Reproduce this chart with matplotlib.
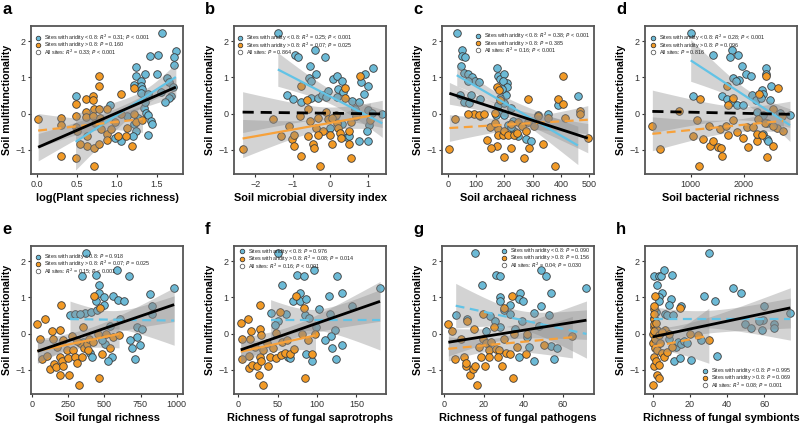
import numpy as np
import matplotlib
matplotlib.use('Agg')
import matplotlib.pyplot as plt

plt.rcParams['font.family'] = ['Liberation Sans', 'DejaVu Sans']

BLUE = '#6cbad6'
BLUE_LINE = '#62c3e6'
ORANGE = '#f29a26'
ORANGE_LINE = '#f7a13a'

# ---- panel a: log(Plant species richness)
a_blue_x = [1.56, 1.74, 1.72, 1.41, 1.51, 1.72, 1.24, 1.35, 1.50, 1.63, 1.24, 1.30, 1.21, 1.30, 1.32,
            1.30, 1.39, 1.55, 1.66, 1.70, 1.68, 1.66, 1.60, 1.34, 1.35, 1.37, 1.39, 1.43, 1.44, 1.39,
            1.22, 1.24, 1.20, 1.13, 1.26, 1.05, 0.97, 0.48, 0.91]
a_blue_y = [2.22, 1.74, 1.57, 1.59, 1.61, 1.34, 1.28, 1.09, 1.09, 0.98, 1.03, 0.89, 0.79, 0.76, 0.67,
            0.58, 0.55, 0.60, 0.87, 0.73, 0.49, 0.42, 0.31, 0.16, 0.33, 0.01, -0.05, -0.20, -0.29, -0.58,
            -0.29, -0.47, -0.62, -0.08, -0.11, -0.76, -0.67, 0.48, 0.25]
a_orange_x = [0.01, 0.30, 0.30, 0.30, 0.48, 0.48, 0.48, 0.49, 0.61, 0.61, 0.61, 0.62, 0.62, 0.70, 0.70,
              0.71, 0.70, 0.72, 0.71, 0.71, 0.78, 0.78, 0.78, 0.79, 0.80, 0.78, 0.87, 0.87, 0.87, 1.01,
              1.05, 1.05, 1.13, 1.12, 1.19, 1.21, 1.21, 1.24, 1.32, 0.97, 0.92, 0.50, 0.54]
a_orange_y = [-0.15, -0.11, -0.31, -1.17, -0.08, -0.38, 0.26, -1.24, 0.40, 0.05, -0.09, -0.62, -0.91, 0.48, 0.37,
              0.12, -0.07, -0.26, -0.94, -1.44, 1.03, 0.76, 0.14, -0.11, -0.42, -0.85, 0.14, -0.56, -0.74, -0.62,
              0.54, -0.02, -0.40, -0.61, -0.89, 0.70, -0.02, -0.22, -0.18, -0.24, -0.44, -0.49, -0.85]
a_fits = [(-0.78, 1.01), (-0.47, -0.15), (-0.93, 0.73)]  # blue, orange, all (y at x min / x max)

# ---- panel b: Soil microbial diversity index
b_blue_x = [-1.40, -0.93, -0.86, -0.41, -0.14, -0.53, -0.37, -0.56, -0.50, 0.07, 0.17, 0.31, 0.94, 1.14, 1.00,
            0.83, -0.05, 0.22, 0.35, -1.16, -1.00, -0.79, -0.50, -0.32, -0.23, -0.10, 0.17, 0.58, 0.76, 0.89,
            0.65, 1.00, 1.12, 1.39, 1.03, 0.98, 0.76, 1.00, 0.44, 0.49, 0.31, 0.00]
b_blue_y = [2.22, 1.63, 1.57, 1.75, 1.57, 1.32, 1.09, 0.98, 0.91, 0.96, 1.03, 0.89, 1.09, 1.27, 0.76,
            0.87, 0.61, 0.69, 0.60, 0.51, 0.40, 0.31, 0.43, 0.42, 0.51, 0.46, 0.46, 0.34, 0.33, 0.55,
            0.14, 0.10, 0.01, -0.02, -0.31, -0.49, -0.76, -0.77, -0.66, -0.62, -0.29, -0.40]
b_orange_x = [-2.34, -1.53, -1.31, -1.02, -0.98, -0.77, -0.97, -1.11, -0.81, -0.79, -0.61, -0.59, -0.59, -0.47,
              -0.44, -0.37, -0.32, -0.26, -0.19, -0.10, -0.05, -0.01, 0.06, 0.15, 0.17, 0.22, 0.26, 0.29,
              0.40, 0.49, 0.49, 0.56, 0.56, 0.69, 0.80, 0.40, 1.07, -0.53, -0.32, 0.04]
b_orange_y = [-0.98, -0.14, -0.62, -0.71, -0.89, -1.17, -0.58, -0.35, -0.08, 0.76, 0.37, 0.14, -0.62, -0.85,
              -0.94, -0.40, -0.13, -1.44, -0.47, 0.05, -0.14, -0.58, -0.83, -0.04, -0.26, -0.40, -0.53, -0.67,
              0.70, -0.49, -0.85, -1.23, -0.23, -0.08, 1.03, 0.42, -0.17, -0.20, -0.58, -0.13]
b_fits = [(1.22, -0.27), (-0.69, -0.06), (0.04, -0.01)]

# ---- panel c: Soil archaeal richness
c_blue_x = [32, 51, 51, 61, 48, 59, 71, 86, 96, 112, 71, 45, 59, 76, 82, 113, 114, 174, 176, 186, 200, 209,
            195, 207, 209, 192, 184, 176, 200, 224, 182, 198, 171, 212, 229, 235, 247, 276, 294, 318, 355,
            459, 388, 224]
c_blue_y = [2.22, 1.75, 1.59, 1.56, 1.32, 1.12, 1.09, 1.00, 0.91, 0.87, 0.91, 0.51, 0.31, 0.28, 0.51, 0.40,
            -0.06, 1.27, 1.03, 0.96, 1.09, 0.85, 0.91, 0.52, 0.74, 0.67, 0.42, 0.25, 0.28, 0.16, 0.05, -0.04,
            -0.05, -0.31, -0.20, -0.47, -0.62, -0.71, -0.76, -0.04, -0.02, 0.48, 0.25, -0.38]
c_orange_x = [6, 26, 94, 112, 129, 139, 167, 175, 182, 185, 176, 178, 175, 153, 151, 167, 194, 198, 198, 212,
              224, 235, 244, 249, 261, 268, 276, 288, 282, 282, 306, 320, 335, 353, 379, 388, 406, 408, 412,
              465, 465, 494, 224, 71]
c_orange_y = [-0.98, -0.14, -0.02, -0.04, -0.02, -0.74, 0.01, 0.73, 0.64, 0.37, -0.42, -0.58, -0.89, -0.94,
              -0.38, -0.26, -0.60, -1.21, -0.47, -0.60, -0.94, -0.60, -0.53, -0.23, -0.35, -1.24, -0.47, -0.94,
              0.40, -0.22, -0.33, -0.08, -0.83, -0.11, -1.44, 0.40, 0.27, 1.03, -0.11, 0.07, 0.00, -0.67,
              -0.28, -0.02]
c_fits = [(1.06, -0.88), (-0.40, -0.17), (0.56, -0.68)]

# ---- panel d: Soil bacterial richness
d_blue_x = [1000, 1412, 1769, 1737, 1881, 1956, 2037, 2131, 1800, 1912, 1850, 2412, 2406, 2500, 2331, 2362,
            1050, 1581, 1675, 1769, 1862, 1987, 2144, 2225, 2312, 2487, 2675, 2862, 2425, 2362, 2425, 2456,
            2250, 2362]
d_blue_y = [2.22, 1.62, 1.75, 1.57, 1.61, 1.32, 1.09, 1.03, 0.98, 0.93, 0.91, 1.27, 1.09, 0.76, 0.64, 0.55,
            0.49, 0.49, 0.40, 0.31, 0.23, 0.25, 0.51, 0.37, 0.42, 0.37, 0.01, -0.04, -0.26, -0.56, -0.69, -0.76,
            0.05, -0.04]
d_orange_x = [281, 425, 781, 1050, 1175, 1150, 1112, 1237, 1362, 1344, 1425, 1519, 1562, 1581, 1550, 1687,
              1706, 1662, 1706, 1800, 1787, 1862, 1987, 2050, 2081, 2175, 2237, 2250, 2287, 2269, 2331, 2406,
              2400, 2437, 2550, 2631, 2612, 2550, 2706, 2737, 2550]
d_orange_y = [-0.33, -0.98, 0.07, -0.62, 0.40, -1.44, -0.17, -0.69, -0.89, -0.35, -0.76, -0.92, -0.96, -1.17,
              -0.44, 0.76, 0.25, -0.35, -0.58, 0.42, -0.17, -0.51, -0.67, -0.38, -0.92, -0.38, -0.76, -0.56,
              0.55, -0.14, -0.58, 1.03, -0.26, -1.21, -0.89, 0.70, -0.40, 0.14, -0.08, -0.49, -0.35]
d_fits = [(1.47, -0.32), (-0.56, -0.20), (0.06, -0.02)]

# ---- panel e: Soil fungal richness
e_blue_x = [375, 345, 444, 586, 671, 462, 467, 499, 441, 563, 598, 639, 816, 982, 499, 368, 407, 448, 264,
            299, 333, 828, 828, 729, 759, 724, 678, 690, 747, 713, 552, 529, 402, 414, 506, 483, 356, 540, 609]
e_blue_y = [2.22, 1.59, 1.61, 1.75, 1.59, 1.34, 1.12, 1.00, 0.91, 1.03, 0.94, 0.89, 1.09, 1.27, 0.80, 0.58,
            0.59, 0.64, 0.51, 0.53, 0.55, 0.77, 0.55, 0.17, 0.13, -0.10, -0.19, -0.39, -0.32, -0.71, -0.64,
            -0.77, -0.55, -0.66, -0.28, -0.17, -0.23, 0.22, 0.40]
e_orange_x = [39, 57, 69, 92, 103, 126, 138, 145, 154, 172, 168, 195, 200, 195, 207, 195, 218, 241, 253, 260,
              276, 287, 299, 315, 329, 333, 345, 356, 361, 384, 391, 398, 421, 430, 460, 471, 483, 467, 510,
              540, 218, 310, 563, 602]
e_orange_y = [0.26, -0.14, -0.71, 0.40, -0.62, -0.98, 0.06, -0.14, -0.84, -0.37, -0.93, 0.10, 0.78, -0.64,
              -0.77, -1.15, -0.91, -0.46, -0.68, -1.14, -0.08, -0.46, -0.64, -0.80, -1.43, -0.26, -0.64, 0.17,
              -0.41, -0.28, -0.46, -0.14, -0.23, 1.03, -0.01, 0.71, -0.57, -1.23, -0.01, -0.41, -0.19, -0.21,
              -0.10, -0.03]
e_fits = [(0.40, 0.36), (-0.48, -0.01), (-0.49, 0.80)]

# ---- panel f: Richness of fungal saprotrophs
f_blue_x = [50, 75, 83, 96, 125, 55, 78, 132, 180, 115, 69, 78, 86, 103, 144, 41, 60, 85, 90, 116, 123, 99,
            118, 110, 119, 132, 124, 63, 66, 93, 86, 50, 46]
f_blue_y = [2.22, 1.63, 1.59, 1.75, 1.59, 1.34, 1.12, 1.12, 1.27, 1.03, 0.91, 0.91, 0.96, 0.67, 0.77, 0.58,
            0.53, 0.51, 0.44, 0.55, 0.10, 0.17, -0.08, -0.19, -0.39, -0.32, -0.71, -0.64, -0.68, -0.77,
            -0.57, 0.35, 0.25]
f_orange_x = [3, 5, 5, 12, 13, 13, 16, 18, 21, 24, 27, 27, 27, 26, 29, 29, 31, 31, 36, 38, 40, 44, 48, 48,
              55, 54, 59, 62, 66, 71, 73, 81, 84, 85, 88, 93, 53, 98, 15]
f_orange_y = [0.28, -0.14, -0.71, 0.40, -0.62, -0.95, 0.08, -0.86, -0.37, -0.91, 0.78, 0.13, -0.64, -1.15,
              -0.77, -0.05, -0.46, -1.43, -0.26, -0.91, -0.64, -0.41, 0.01, -0.68, -0.23, -0.59, -0.55, -0.19,
              -0.57, -0.44, 1.03, -0.01, 0.71, -1.23, -0.19, -0.57, 0.60, -0.01, -0.14]
f_fits = [(0.38, 0.38), (-0.50, -0.05), (-0.45, 0.89)]

# ---- panel g: Richness of fungal pathogens
g_blue_x = [15.4, 26.2, 28.4, 48.7, 51.5, 19.1, 38.5, 53.7, 71.8, 28.1, 28.4, 33.5, 37.7, 39.9, 48.7, 5.9,
            11.5, 23.3, 25.9, 30.1, 33.5, 45.6, 52.9, 39.4, 36.0, 41.9, 42.8, 54.1, 57.1, 55.4, 45.6, 37.7,
            28.4, 47.8, 21.3]
g_blue_y = [2.22, 1.63, 1.59, 1.75, 1.59, 1.34, 1.12, 1.12, 1.27, 1.00, 0.91, 0.80, 0.96, 0.89, 0.77, 0.50,
            0.40, 0.49, 0.35, 0.64, 0.53, 0.58, 0.51, 0.35, 0.13, -0.10, -0.37, -0.35, -0.41, -0.71, -0.77,
            -0.64, 0.17, 0.22, 0.08]
g_orange_x = [2.2, 3.9, 5.6, 8.6, 10.3, 11.2, 11.2, 13.2, 14.5, 15.2, 15.7, 16.6, 17.4, 18.8, 19.6, 21.3,
              20.8, 22.5, 22.9, 19.9, 23.8, 25.0, 26.4, 27.6, 29.2, 30.1, 30.4, 31.4, 33.5, 34.3, 35.2, 34.6,
              36.8, 41.1, 41.9, 50.4, 64.7, 11.5, 27.0]
g_orange_y = [0.26, 0.06, -0.71, -0.14, -0.64, -0.91, -0.80, -1.15, -0.98, 0.13, -0.89, -1.43, -0.37, -0.64,
              -0.14, -0.26, -0.91, -0.46, -0.64, 0.53, -0.23, 0.19, -0.44, -0.46, -0.91, -0.14, 0.71, -0.55,
              -0.57, 1.03, -0.01, -1.23, -0.37, -0.57, -0.01, -0.32, -0.08, 0.35, -0.64]
g_fits = [(0.77, -0.01), (-0.42, -0.10), (-0.24, 0.37)]

# ---- panel h: Richness of fungal symbionts
h_blue_x = [30.2, 0.9, 3.6, 4.3, 6.3, 10.3, 2.2, 4.9, 3.6, 3.1, 9.8, 8.5, 15.4, 43.0, 47.4, 33.4, 27.5, 1.6,
            0.7, 6.7, 7.6, 10.8, 60.0, 74.1, 49.5, 52.8, 59.5, 59.1, 65.1, 65.4, 57.0, 8.5, 12.7, 13.4, 15.2,
            16.6, 11.6, 14.8, 20.8, 26.2, 34.7, 2.2, 18.4]
h_blue_y = [2.22, 1.60, 1.59, 1.60, 1.75, 1.62, 1.34, 1.12, 1.00, 0.91, 0.96, 0.80, 0.77, 1.27, 1.12, 0.89,
            1.03, 0.59, 0.42, 0.53, 0.51, 0.51, 0.77, 0.58, 0.26, 0.15, 0.37, 0.10, 0.26, 0.15, 0.35, -0.14,
            -0.37, -0.24, -0.30, -0.21, -0.76, -0.68, -0.72, -0.19, -0.61, -0.32, -0.26]
h_orange_x = [0.4, 0.4, 0.4, 0.0, 0.0, 0.4, 0.4, 0.0, 1.3, 0.9, 0.7, 1.3, 1.3, 1.8, 2.2, 3.1, 2.5, 2.5,
              3.6, 4.0, 4.9, 5.8, 6.7, 7.6, 8.5, 10.3, 14.5, 20.2, 24.4, 30.2, 0.7, 1.8, 0.4, 3.1, 4.9]
h_orange_y = [0.67, 0.40, 0.17, -0.01, -0.26, -0.64, -0.91, -1.43, 1.03, 0.76, 0.27, -0.14, -0.41, -0.77,
              -1.15, -1.23, 0.10, -0.46, -0.86, -0.26, -0.55, -0.64, 0.10, -0.50, -0.01, -0.37, 0.71, -0.01,
              -0.05, -0.17, 0.06, 0.30, 0.53, -0.03, 0.04]
h_fits = [(0.40, 0.40), (-0.36, -0.06), (-0.09, 0.71)]

letters = ['a', 'b', 'c', 'd', 'e', 'f', 'g', 'h']
xlabels = ['log(Plant species richness)', 'Soil microbial diversity index', 'Soil archaeal richness',
           'Soil bacterial richness', 'Soil fungal richness', 'Richness of fungal saprotrophs',
           'Richness of fungal pathogens', 'Richness of fungal symbionts']
legend_texts = [
    ['Sites with aridity < 0.8: $R^2$ = 0.31; $P$ < 0.001', 'Sites with aridity > 0.8: $P$ = 0.160',
     'All sites: $R^2$ = 0.33; $P$ < 0.001'],
    ['Sites with aridity < 0.8: $R^2$ = 0.25; $P$ < 0.001', 'Sites with aridity > 0.8: $R^2$ = 0.07; $P$ = 0.025',
     'All sites: $P$ = 0.864'],
    ['Sites with aridity < 0.8: $R^2$ = 0.38; $P$ < 0.001', 'Sites with aridity > 0.8: $P$ = 0.385',
     'All sites: $R^2$ = 0.16; $P$ < 0.001'],
    ['Sites with aridity < 0.8: $R^2$ = 0.28; $P$ < 0.001', 'Sites with aridity > 0.8: $P$ = 0.096',
     'All sites: $P$ = 0.816'],
    ['Sites with aridity < 0.8: $P$ = 0.918', 'Sites with aridity > 0.8: $R^2$ = 0.07; $P$ = 0.025',
     'All sites: $R^2$ = 0.15; $P$ < 0.001'],
    ['Sites with aridity < 0.8: $P$ = 0.976', 'Sites with aridity > 0.8: $R^2$ = 0.08; $P$ = 0.014',
     'All sites: $R^2$ = 0.16; $P$ < 0.001'],
    ['Sites with aridity < 0.8: $P$ = 0.090', 'Sites with aridity > 0.8: $P$ = 0.156',
     'All sites: $R^2$ = 0.04; $P$ = 0.030'],
    ['Sites with aridity < 0.8: $P$ = 0.995', 'Sites with aridity > 0.8: $P$ = 0.069',
     'All sites: $R^2$ = 0.08; $P$ = 0.001'],
]
# significant fit -> solid line, otherwise dashed (blue, orange, all)
solid = [(True, False, True), (True, True, False), (True, False, True), (True, False, False),
         (False, True, True), (False, True, True), (False, False, True), (False, False, True)]

panels = [
    (a_blue_x, a_blue_y, a_orange_x, a_orange_y, a_fits),
    (b_blue_x, b_blue_y, b_orange_x, b_orange_y, b_fits),
    (c_blue_x, c_blue_y, c_orange_x, c_orange_y, c_fits),
    (d_blue_x, d_blue_y, d_orange_x, d_orange_y, d_fits),
    (e_blue_x, e_blue_y, e_orange_x, e_orange_y, e_fits),
    (f_blue_x, f_blue_y, f_orange_x, f_orange_y, f_fits),
    (g_blue_x, g_blue_y, g_orange_x, g_orange_y, g_fits),
    (h_blue_x, h_blue_y, h_orange_x, h_orange_y, h_fits),
]
xlims = [(-0.08, 1.83), (-2.57, 1.49), (-20, 516), (143, 2994),
         (-5, 1043), (-5.5, 187.6), (-1, 75.6), (-4.2, 77.7)]
xticks = [[0.0, 0.5, 1.0, 1.5], [-2, -1, 0, 1], [0, 100, 200, 300, 400, 500], [1000, 2000],
          [0, 250, 500, 750, 1000], [0, 50, 100, 150], [0, 20, 40, 60], [0, 20, 40, 60]]
xtick_fmt = ['{:.1f}', '{:g}', '{:g}', '{:g}', '{:g}', '{:g}', '{:g}', '{:g}']
# first legend marker position, axes fraction
legend_anchor = [(0.044, 0.921), (0.040, 0.917), (0.239, 0.932), (0.050, 0.919),
                 (0.044, 0.926), (0.055, 0.963), (0.408, 0.968), (0.395, 0.157)]


def fit_band(ax, x, y, ends, color, is_solid, lw):
    x = np.asarray(x, float)
    y = np.asarray(y, float)
    x0, x1 = x.min(), x.max()
    slope = (ends[1] - ends[0]) / (x1 - x0)
    pred = ends[0] + slope * (x - x0)
    n = len(x)
    s = np.sqrt(np.sum((y - pred) ** 2) / (n - 2))
    sxx = np.sum((x - x.mean()) ** 2)
    xg = np.linspace(x0, x1, 100)
    yg = ends[0] + slope * (xg - x0)
    half = 1.98 * s * np.sqrt(1.0 / n + (xg - x.mean()) ** 2 / sxx)
    ax.fill_between(xg, yg - half, yg + half, color='#8c8c8c', alpha=0.38, lw=0, zorder=3)
    ax.plot(xg, yg, color=color, lw=lw, ls='-' if is_solid else (0, (4, 2.5)), zorder=4,
            solid_capstyle='butt')


fig = plt.figure(figsize=(8, 4.24), dpi=100)
col_left = [31, 234, 442, 645]
row_top = [26, 246]

for i, (bx, by, ox, oy, fits) in enumerate(panels):
    r, c = divmod(i, 4)
    ax = fig.add_axes([col_left[c] / 800, 1 - (row_top[r] + 148) / 424, 152 / 800, 148 / 424])
    ax.scatter(bx, by, s=30, c=BLUE, edgecolors='#3a3a3a', linewidths=0.6, zorder=2)
    ax.scatter(ox, oy, s=30, c=ORANGE, edgecolors='#3a3a3a', linewidths=0.6, zorder=2)

    fit_band(ax, bx, by, fits[0], BLUE_LINE, solid[i][0], 1.6)
    fit_band(ax, ox, oy, fits[1], ORANGE_LINE, solid[i][1], 1.6)
    fit_band(ax, bx + ox, by + oy, fits[2], 'black', solid[i][2], 2.0)

    ax.set_xlim(*xlims[i])
    ax.set_ylim(-1.67, 2.42)
    ax.set_yticks([-1, 0, 1, 2])
    ax.set_yticklabels(['\u22121', '0', '1', '2'])
    ax.set_xticks(xticks[i])
    ax.set_xticklabels([xtick_fmt[i].format(t).replace('-', '\u2212') for t in xticks[i]])
    ax.tick_params(labelsize=6.5, length=2.5, width=0.8, color='#333333', labelcolor='#333333', pad=1.5)
    for sp in ax.spines.values():
        sp.set_color('#555555')
        sp.set_linewidth(1.3)
    ax.set_xlabel(xlabels[i], fontsize=7.9, fontweight='bold', labelpad=3)
    ax.set_ylabel('Soil multifunctionality', fontsize=7.6, fontweight='bold', labelpad=2)
    ax.text(-0.19, 1.165, letters[i], transform=ax.transAxes, fontsize=12, fontweight='bold',
            va='top', ha='left')

    # legend drawn as three small rows
    lx, ly = legend_anchor[i]
    faces = [BLUE, ORANGE, 'white']
    edges = ['#333333', '#333333', '#555555']
    for k in range(3):
        yk = ly - k * 0.048
        ax.plot([lx], [yk], transform=ax.transAxes, ls='', marker='o', ms=3.3,
                mfc=faces[k], mec=edges[k], mew=0.55, zorder=6, clip_on=False)
        ax.text(lx + 0.04, yk, legend_texts[i][k], transform=ax.transAxes, fontsize=3.9,
                va='center', ha='left', color='#222222', zorder=6)

fig.savefig('out.png', dpi=100)
